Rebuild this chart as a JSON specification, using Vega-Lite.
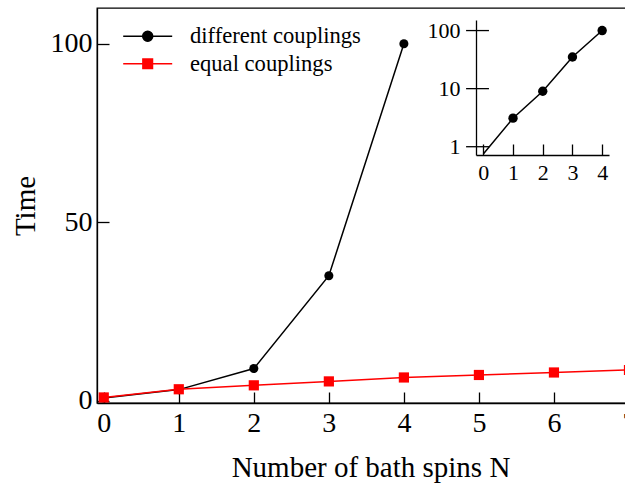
{
  "$schema": "https://vega.github.io/schema/vega-lite/v6.json",
  "width": 547,
  "height": 395,
  "autosize": {"type": "none"},
  "padding": {"left": 97, "top": 8, "right": -19, "bottom": 82},
  "background": "white",
  "config": {
    "font": "Liberation Serif",
    "view": {"stroke": "#000000", "strokeWidth": 1.3},
    "axis": {"domainColor": "#000000", "domainWidth": 1.3, "tickColor": "#000000", "tickWidth": 1.3, "labelColor": "#000000", "titleColor": "#000000", "grid": false, "titleFontWeight": "normal", "labelFont": "Liberation Serif", "titleFont": "Liberation Serif", "labelOverlap": false, "labelFlush": false},
    "legend": {"orient": "none", "legendX": 39.4, "legendY": 17, "labelFontSize": 22.6, "labelFont": "Liberation Serif", "labelColor": "#000000", "labelOffset": 31, "symbolSize": 400, "symbolStrokeWidth": 1.5, "symbolOpacity": 1, "rowPadding": 4.4, "padding": 0, "labelLimit": 400}
  },
  "datasets": {
    "series": [
      {"N": 0, "T": 0.75, "series": "different couplings"},
      {"N": 1, "T": 3.1, "series": "different couplings"},
      {"N": 2, "T": 9.0, "series": "different couplings"},
      {"N": 3, "T": 35, "series": "different couplings"},
      {"N": 4, "T": 100, "series": "different couplings"},
      {"N": 0, "T": 0.9, "series": "equal couplings"},
      {"N": 1, "T": 3.2, "series": "equal couplings"},
      {"N": 2, "T": 4.3, "series": "equal couplings"},
      {"N": 3, "T": 5.4, "series": "equal couplings"},
      {"N": 4, "T": 6.5, "series": "equal couplings"},
      {"N": 5, "T": 7.2, "series": "equal couplings"},
      {"N": 6, "T": 7.9, "series": "equal couplings"},
      {"N": 7, "T": 8.6, "series": "equal couplings"}
    ],
    "insetTicks": [{"t": 1}, {"t": 10}, {"t": 100}]
  },
  "layer": [
    {
      "data": {"name": "series"},
      "layer": [
        {
          "transform": [{"filter": "datum.series === 'different couplings'"}],
          "mark": {"type": "line", "strokeWidth": 1.5, "color": "#000000"},
          "encoding": {
            "x": {"field": "N", "type": "quantitative", "scale": {"domain": [-0.09, 7.2], "nice": false, "zero": false}, "axis": {"orient": "bottom", "values": [0, 1, 2, 3, 4, 5, 6, 7], "format": "d", "tickSize": -11, "labelPadding": 17.7, "labelFontSize": 28, "title": "Number of bath spins N", "titleFontSize": 29, "titlePadding": 15.5}},
            "y": {"field": "T", "type": "quantitative", "scale": {"domain": [-0.65, 110], "nice": false, "zero": false}, "axis": {"orient": "left", "values": [0, 50, 100], "format": "d", "tickSize": -12, "labelPadding": 17, "labelFontSize": 28, "title": "Time", "titleFontSize": 29, "titlePadding": 10}}
          }
        },
        {
          "transform": [{"filter": "datum.series === 'equal couplings'"}],
          "mark": {"type": "line", "strokeWidth": 1.5, "color": "#ff0000"},
          "encoding": {
            "x": {"field": "N", "type": "quantitative", "scale": {"domain": [-0.09, 7.2], "nice": false, "zero": false}, "axis": {"orient": "bottom", "values": [0, 1, 2, 3, 4, 5, 6, 7], "format": "d", "tickSize": -11, "labelPadding": 17.7, "labelFontSize": 28, "title": "Number of bath spins N", "titleFontSize": 29, "titlePadding": 15.5}},
            "y": {"field": "T", "type": "quantitative", "scale": {"domain": [-0.65, 110], "nice": false, "zero": false}, "axis": {"orient": "left", "values": [0, 50, 100], "format": "d", "tickSize": -12, "labelPadding": 17, "labelFontSize": 28, "title": "Time", "titleFontSize": 29, "titlePadding": 10}}
          }
        },
        {
          "transform": [{"filter": "datum.series === 'different couplings'"}],
          "mark": {"type": "point", "shape": "circle", "filled": true, "size": 82, "color": "#000000", "opacity": 1},
          "encoding": {
            "x": {"field": "N", "type": "quantitative", "scale": {"domain": [-0.09, 7.2], "nice": false, "zero": false}, "axis": {"orient": "bottom", "values": [0, 1, 2, 3, 4, 5, 6, 7], "format": "d", "tickSize": -11, "labelPadding": 17.7, "labelFontSize": 28, "title": "Number of bath spins N", "titleFontSize": 29, "titlePadding": 15.5}},
            "y": {"field": "T", "type": "quantitative", "scale": {"domain": [-0.65, 110], "nice": false, "zero": false}, "axis": {"orient": "left", "values": [0, 50, 100], "format": "d", "tickSize": -12, "labelPadding": 17, "labelFontSize": 28, "title": "Time", "titleFontSize": 29, "titlePadding": 10}}
          }
        },
        {
          "transform": [{"filter": "datum.series === 'equal couplings'"}],
          "mark": {"type": "point", "shape": "square", "filled": true, "size": 104, "color": "#ff0000", "opacity": 1},
          "encoding": {
            "x": {"field": "N", "type": "quantitative", "scale": {"domain": [-0.09, 7.2], "nice": false, "zero": false}, "axis": {"orient": "bottom", "values": [0, 1, 2, 3, 4, 5, 6, 7], "format": "d", "tickSize": -11, "labelPadding": 17.7, "labelFontSize": 28, "title": "Number of bath spins N", "titleFontSize": 29, "titlePadding": 15.5}},
            "y": {"field": "T", "type": "quantitative", "scale": {"domain": [-0.65, 110], "nice": false, "zero": false}, "axis": {"orient": "left", "values": [0, 50, 100], "format": "d", "tickSize": -12, "labelPadding": 17, "labelFontSize": 28, "title": "Time", "titleFontSize": 29, "titlePadding": 10}}
          }
        },
        {
          "mark": {"type": "point", "filled": true, "opacity": 0},
          "encoding": {
            "x": {"field": "N", "type": "quantitative", "scale": {"domain": [-0.09, 7.2], "nice": false, "zero": false}, "axis": {"orient": "bottom", "values": [0, 1, 2, 3, 4, 5, 6, 7], "format": "d", "tickSize": -11, "labelPadding": 17.7, "labelFontSize": 28, "title": "Number of bath spins N", "titleFontSize": 29, "titlePadding": 15.5}},
            "y": {"field": "T", "type": "quantitative", "scale": {"domain": [-0.65, 110], "nice": false, "zero": false}, "axis": {"orient": "left", "values": [0, 50, 100], "format": "d", "tickSize": -12, "labelPadding": 17, "labelFontSize": 28, "title": "Time", "titleFontSize": 29, "titlePadding": 10}},
            "fill": {"field": "series", "type": "nominal", "scale": {"domain": ["different couplings", "equal couplings"], "range": ["#000000", "#ff0000"]}, "legend": {"title": null}},
            "stroke": {"field": "series", "type": "nominal", "scale": {"domain": ["different couplings", "equal couplings"], "range": ["#000000", "#ff0000"]}, "legend": {"title": null}},
            "shape": {"field": "series", "type": "nominal", "scale": {"domain": ["different couplings", "equal couplings"], "range": ["M-2.45,0L2.45,0M0.5,0A0.5,0.5,0,1,1,-0.5,0A0.5,0.5,0,1,1,0.5,0Z", "M-2.45,0L2.45,0M-0.48,-0.48L0.48,-0.48L0.48,0.48L-0.48,0.48Z"]}, "legend": {"title": null}}
          }
        }
      ]
    },
    {
      "layer": [
        {
          "data": {"name": "series"},
          "transform": [{"filter": "datum.series === 'different couplings'"}],
          "mark": {"type": "line", "strokeWidth": 1.5, "color": "#000000"},
          "encoding": {
            "x": {"field": "N", "type": "quantitative", "scale": {"domain": [-0.246, 4.23], "range": [379, 512], "nice": false, "zero": false}, "axis": {"orient": "bottom", "offset": -248, "values": [0, 1, 2, 3, 4], "format": "d", "tickSize": -11, "labelPadding": 18, "labelFontSize": 22, "title": null}},
            "y": {"field": "T", "type": "quantitative", "scale": {"type": "log", "domain": [0.72, 152], "range": [147, 12], "nice": false}, "axis": {"orient": "left", "offset": -379, "values": [1, 10, 100], "format": "d", "ticks": false, "labelPadding": 16, "labelFontSize": 22, "title": null}}
          }
        },
        {
          "data": {"name": "series"},
          "transform": [{"filter": "datum.series === 'different couplings' && datum.N >= 1"}],
          "mark": {"type": "point", "shape": "circle", "filled": true, "size": 88, "color": "#000000", "opacity": 1},
          "encoding": {
            "x": {"field": "N", "type": "quantitative", "scale": {"domain": [-0.246, 4.23], "range": [379, 512], "nice": false, "zero": false}, "axis": {"orient": "bottom", "offset": -248, "values": [0, 1, 2, 3, 4], "format": "d", "tickSize": -11, "labelPadding": 18, "labelFontSize": 22, "title": null}},
            "y": {"field": "T", "type": "quantitative", "scale": {"type": "log", "domain": [0.72, 152], "range": [147, 12], "nice": false}, "axis": {"orient": "left", "offset": -379, "values": [1, 10, 100], "format": "d", "ticks": false, "labelPadding": 16, "labelFontSize": 22, "title": null}}
          }
        },
        {
          "data": {"name": "insetTicks"},
          "mark": {"type": "rule", "strokeWidth": 1.3, "color": "#000000"},
          "encoding": {
            "y": {"field": "t", "type": "quantitative", "scale": {"type": "log", "domain": [0.72, 152], "range": [147, 12], "nice": false}, "axis": {"orient": "left", "offset": -379, "values": [1, 10, 100], "format": "d", "ticks": false, "labelPadding": 16, "labelFontSize": 22, "title": null}},
            "x": {"datum": -0.58, "type": "quantitative", "scale": {"domain": [-0.246, 4.23], "range": [379, 512], "nice": false, "zero": false}, "axis": {"orient": "bottom", "offset": -248, "values": [0, 1, 2, 3, 4], "format": "d", "tickSize": -11, "labelPadding": 18, "labelFontSize": 22, "title": null}},
            "x2": {"datum": 0.19}
          }
        }
      ]
    }
  ],
  "resolve": {"scale": {"x": "independent", "y": "independent"}, "axis": {"x": "independent", "y": "independent"}}
}
